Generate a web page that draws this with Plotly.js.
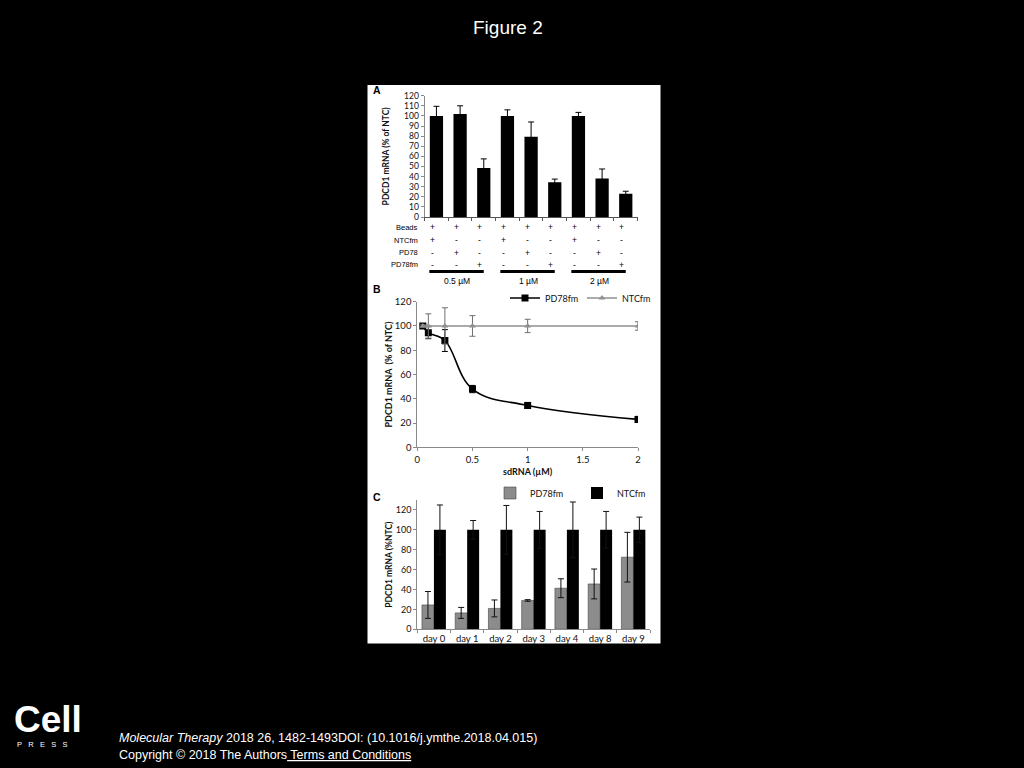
<!DOCTYPE html>
<html>
<head>
<meta charset="utf-8">
<script src="https://cdn.plot.ly/plotly-3.0.1.min.js"></script>
<style>
  html, body { margin: 0; padding: 0; background: #000; }
  #chart { width: 1024px; height: 768px; }
</style>
</head>
<body>
<div id="chart"></div>
<script>
// ---------- Panel A data ----------
const aConditions = ['0.5 µM NTCfm', '0.5 µM PD78', '0.5 µM PD78fm',
                     '1 µM NTCfm', '1 µM PD78', '1 µM PD78fm',
                     '2 µM NTCfm', '2 µM PD78', '2 µM PD78fm'];
const aValues = [100, 102, 48.5, 100, 79.5, 34.5, 100, 38, 23];
const aErrors = [9.5, 8, 9, 6, 14.5, 3, 3.5, 9.5, 2.5];
const tableRowLabels = ['Beads', 'NTCfm', 'PD78', 'PD78fm'];
const beadsRow  = ['+', '+', '+', '+', '+', '+', '+', '+', '+'];
const ntcfmRow  = ['+', '-', '-', '+', '-', '-', '+', '-', '-'];
const pd78Row   = ['-', '+', '-', '-', '+', '-', '-', '+', '-'];
const pd78fmRow = ['-', '-', '+', '-', '-', '+', '-', '-', '+'];
const concLabels = ['0.5 µM', '1 µM', '2 µM'];

// ---------- Panel B data ----------
const bDose = [0.05, 0.1, 0.25, 0.5, 1, 2];
const bPD78fm = [100, 94.5, 88, 48, 34.5, 23];
const bPD78fmErr = [1, 5, 9, 3, 2.5, 2.5];
const bNTCfm = [100, 100, 100, 100, 100, 100];
const bNTCfmErr = [1, 10, 15, 8.5, 5.5, 3.5];

// ---------- Panel C data ----------
const cDays = ['day 0', 'day 1', 'day 2', 'day 3', 'day 4', 'day 8', 'day 9'];
const cPD78fm = [24.5, 16.5, 21, 29, 41.3, 45.6, 72.5];
const cPD78fmErr = [13.5, 5.5, 8.5, 0.8, 9.5, 15, 25];
const cNTCfm = [100, 100, 100, 100, 100, 100, 100];
const cNTCfmErr = [25, 9.4, 24.5, 18.5, 28, 18.5, 12.8];

// ---------- helpers ----------
const W = 1024, H = 768;
const px = v => v / W;
const py = v => 1 - v / H;
const chartFont = 'Lato, "Liberation Sans", sans-serif';
const armFont = '"Liberation Sans", Arial, sans-serif';
const GRAY = '#8c8c8c';

const traces = [
  // Panel A
  {
    type: 'bar', x: aConditions, y: aValues, xaxis: 'x', yaxis: 'y',
    width: 0.56, marker: {color: '#000'}, showlegend: false,
    error_y: {type: 'data', array: aErrors, visible: true, color: '#000', thickness: 1, width: 3}
  },
  // Panel B
  {
    type: 'scatter', mode: 'lines+markers', name: 'PD78fm', x: bDose, y: bPD78fm,
    xaxis: 'x2', yaxis: 'y2', legend: 'legend',
    line: {color: '#000', width: 1.6, shape: 'spline', smoothing: 1.1},
    marker: {symbol: 'square', size: 7, color: '#000'},
    error_y: {type: 'data', array: bPD78fmErr, visible: true, color: '#000', thickness: 1, width: 3}
  },
  {
    type: 'scatter', mode: 'lines+markers', name: 'NTCfm', x: bDose, y: bNTCfm,
    xaxis: 'x2', yaxis: 'y2', legend: 'legend',
    line: {color: '#8f8f8f', width: 1.6},
    marker: {symbol: 'triangle-up', size: 6, color: '#8f8f8f'},
    error_y: {type: 'data', array: bNTCfmErr, visible: true, color: '#6f6f6f', thickness: 1, width: 3}
  },
  // Panel C
  {
    type: 'bar', name: 'PD78fm', x: cDays, y: cPD78fm, xaxis: 'x3', yaxis: 'y3', legend: 'legend2',
    marker: {color: GRAY, line: {color: '#444', width: 0.6}},
    error_y: {type: 'data', array: cPD78fmErr, visible: true, color: '#111', thickness: 1, width: 3}
  },
  {
    type: 'bar', name: 'NTCfm', x: cDays, y: cNTCfm, xaxis: 'x3', yaxis: 'y3', legend: 'legend2',
    marker: {color: '#000'},
    error_y: {type: 'data', array: cNTCfmErr, visible: true, color: '#111', thickness: 1, width: 3}
  }
];

const axisCommon = {
  showgrid: false, zeroline: false, showline: true, linecolor: '#8a8a8a', linewidth: 1,
  ticks: 'outside', ticklen: 3, tickcolor: '#8a8a8a', tickfont: {family: chartFont, size: 9.5, color: '#111'},
  fixedrange: true
};

const annotations = [];
// Figure title
annotations.push({text: 'Figure 2', xref: 'paper', yref: 'paper', x: px(508), y: py(27),
  xanchor: 'center', yanchor: 'middle', showarrow: false,
  font: {family: armFont, size: 19, color: '#fff'}});
// Panel letters
[['A', 90], ['B', 289], ['C', 497]].forEach(([t, yy]) => {
  annotations.push({text: '<b>' + t + '</b>', xref: 'paper', yref: 'paper', x: px(371), y: py(yy),
    xanchor: 'left', yanchor: 'middle', showarrow: false,
    font: {family: armFont, size: 10.5, color: '#000'}});
});
// Panel A table
const tableRows = [beadsRow, ntcfmRow, pd78Row, pd78fmRow];
const rowY = [227, 240, 253, 265];
tableRows.forEach((row, r) => {
  annotations.push({text: tableRowLabels[r], xref: 'paper', yref: 'paper', x: px(420), y: py(rowY[r]),
    xanchor: 'right', yanchor: 'middle', showarrow: false,
    font: {family: armFont, size: 7.5, color: '#000'}});
  row.forEach((s, i) => {
    annotations.push({text: s, xref: 'x', yref: 'paper', x: aConditions[i], y: py(rowY[r]),
      xanchor: 'center', yanchor: 'middle', showarrow: false, xshift: -4,
      font: {family: armFont, size: 8.5, color: '#000'}});
  });
});
const shapes = [];
concLabels.forEach((c, g) => {
  annotations.push({text: c, xref: 'x', yref: 'paper', x: aConditions[g * 3 + 1], y: py(280.5),
    xanchor: 'center', yanchor: 'middle', showarrow: false, xshift: -3,
    font: {family: armFont, size: 8.5, color: '#000'}});
  shapes.push({type: 'line', xref: 'x', yref: 'paper', x0: g * 3 - 0.3, x1: g * 3 + 2.0,
    y0: py(271.5), y1: py(271.5), line: {color: '#000', width: 3}});
});
// White panel background
shapes.unshift({type: 'rect', xref: 'paper', yref: 'paper', x0: px(367.5), x1: px(660.5),
  y0: py(85), y1: py(643.5), fillcolor: '#fff', line: {width: 0}, layer: 'below'});

// Footer
annotations.push({text: '<b>Cell</b>', xref: 'paper', yref: 'paper', x: px(12), y: py(719),
  xanchor: 'left', yanchor: 'middle', showarrow: false,
  font: {family: armFont, size: 37, color: '#fff'}});
annotations.push({text: 'P&nbsp;&nbsp;&nbsp;R&nbsp;&nbsp;&nbsp;E&nbsp;&nbsp;&nbsp;S&nbsp;&nbsp;&nbsp;S', xref: 'paper', yref: 'paper', x: px(15), y: py(744),
  xanchor: 'left', yanchor: 'middle', showarrow: false,
  font: {family: armFont, size: 7.5, color: '#fff'}});
annotations.push({text: '<i>Molecular Therapy</i> 2018 26, 1482-1493DOI: (10.1016/j.ymthe.2018.04.015)',
  xref: 'paper', yref: 'paper', x: px(117), y: py(738), xanchor: 'left', yanchor: 'middle', showarrow: false,
  font: {family: armFont, size: 12.5, color: '#fff'}});
annotations.push({text: 'Copyright © 2018 The Authors<span style="text-decoration:underline"> Terms and Conditions</span>',
  xref: 'paper', yref: 'paper', x: px(117), y: py(755), xanchor: 'left', yanchor: 'middle', showarrow: false,
  font: {family: armFont, size: 12.5, color: '#fff'}});

const layout = {
  width: W, height: H,
  margin: {l: 0, r: 0, t: 0, b: 0, pad: 0},
  paper_bgcolor: '#000', plot_bgcolor: 'rgba(0,0,0,0)',
  barmode: 'group', bargap: 0.28, bargroupgap: 0,
  font: {family: chartFont, color: '#111'},
  // Panel A
  xaxis: Object.assign({}, axisCommon, {
    domain: [px(424.6), px(637.6)], anchor: 'y', type: 'category',
    showticklabels: false, tickson: 'boundaries', linecolor: '#555', tickcolor: '#555'
  }),
  yaxis: Object.assign({}, axisCommon, {
    domain: [py(217), py(95.7)], anchor: 'x', range: [0, 120], dtick: 10,
    tickfont: {family: chartFont, size: 8.5, color: '#111'},
    title: {text: '<b>PDCD1 mRNA (% of NTC)</b>', standoff: 13, font: {family: chartFont, size: 8.5, color: '#111'}}
  }),
  // Panel B
  xaxis2: Object.assign({}, axisCommon, {
    domain: [px(417.3), px(638)], anchor: 'y2', range: [0, 2], dtick: 0.5,
    title: {text: '<b>sdRNA (µM)</b>', standoff: 4, font: {family: chartFont, size: 9, color: '#111'}}
  }),
  yaxis2: Object.assign({}, axisCommon, {
    domain: [py(447.3), py(301.7)], anchor: 'x2', range: [0, 120], dtick: 20,
    title: {text: '<b>PDCD1 mRNA  (% of NTC)</b>', standoff: 0, font: {family: chartFont, size: 9, color: '#111'}}
  }),
  // Panel C
  xaxis3: Object.assign({}, axisCommon, {
    domain: [px(417.3), px(650)], anchor: 'y3', type: 'category', tickson: 'boundaries', ticklen: 3,
    tickfont: {family: chartFont, size: 9.5, color: '#111'}
  }),
  yaxis3: Object.assign({}, axisCommon, {
    domain: [py(629.3), py(500)], anchor: 'x3', range: [0, 130], tickvals: [0, 20, 40, 60, 80, 100, 120],
    tickfont: {family: chartFont, size: 9, color: '#111'},
    title: {text: '<b>PDCD1 mRNA (%NTC)</b>', standoff: 1, font: {family: chartFont, size: 8.5, color: '#111'}}
  }),
  legend: {
    orientation: 'h', x: px(505), y: py(298), xanchor: 'left', yanchor: 'middle',
    bgcolor: 'rgba(0,0,0,0)', font: {family: chartFont, size: 9, color: '#111'},
    itemwidth: 30, entrywidth: 32, entrywidthmode: 'pixels', tracegroupgap: 0
  },
  legend2: {
    orientation: 'h', x: px(490), y: py(493), xanchor: 'left', yanchor: 'middle',
    bgcolor: 'rgba(0,0,0,0)', font: {family: chartFont, size: 9, color: '#111'},
    itemwidth: 30, entrywidth: 42, entrywidthmode: 'pixels'
  },
  annotations: annotations,
  shapes: shapes
};

Plotly.newPlot('chart', traces, layout, {displayModeBar: false, staticPlot: true});
</script>
</body>
</html>
